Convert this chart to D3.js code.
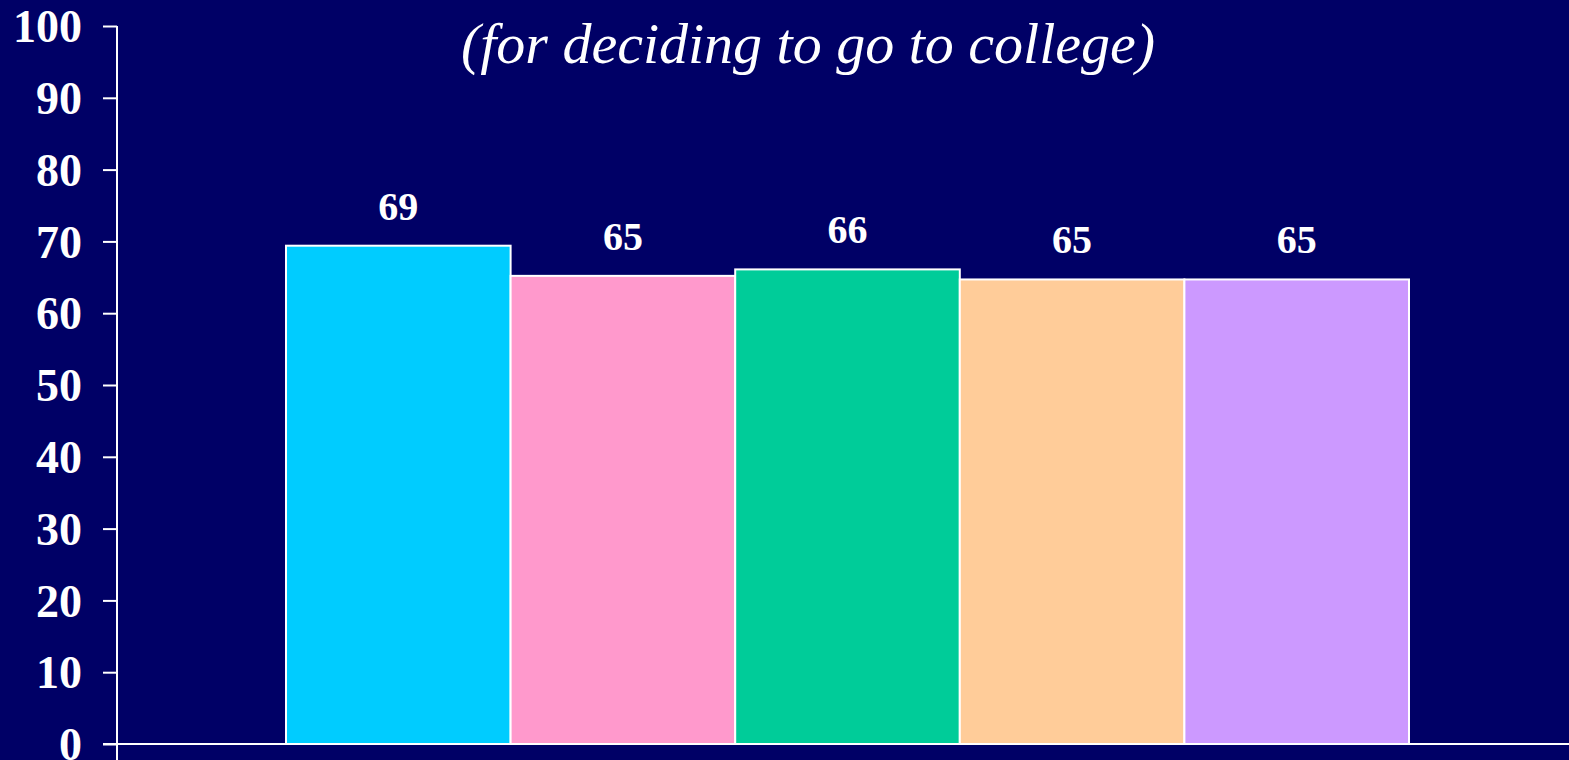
<!DOCTYPE html>
<html>
<head>
<meta charset="utf-8">
<script src="https://cdn.jsdelivr.net/npm/d3@7"></script>
<style>
  html, body { margin: 0; padding: 0; background: #000066; overflow: hidden; }
  svg { display: block; }
</style>
</head>
<body>
<svg id="chart" width="1569" height="760"></svg>
<script>
// ---- data ----
const categories = ["Group 1", "Group 2", "Group 3", "Group 4", "Group 5"];
const values = [69.4, 65.2, 66.1, 64.7, 64.7];
const valueLabels = ["69", "65", "66", "65", "65"];
const barColors = ["#00CCFF", "#FF99CC", "#00CC99", "#FFCC99", "#CC99FF"];
const yTicks = [0, 10, 20, 30, 40, 50, 60, 70, 80, 90, 100];
const subtitle = "(for deciding to go to college)";

// ---- layout ----
const W = 1569, H = 760;
const svg = d3.select("#chart");
svg.append("rect").attr("width", W).attr("height", H).attr("fill", "#000066");

const y = d3.scaleLinear().domain([0, 100]).range([744, 26]);
const x = d3.scaleBand().domain(categories).range([286, 1409]).paddingInner(0).paddingOuter(0);

const serif = "'Liberation Serif', 'Times New Roman', Times, serif";

// subtitle
svg.append("text")
  .attr("x", 808).attr("y", 63)
  .attr("text-anchor", "middle")
  .attr("fill", "#ffffff")
  .attr("font-family", serif)
  .attr("font-style", "italic")
  .attr("font-size", 58)
  .text(subtitle);

// bars
svg.append("g").selectAll("rect")
  .data(categories)
  .join("rect")
  .attr("x", d => x(d))
  .attr("y", (d, i) => y(values[i]))
  .attr("width", x.bandwidth())
  .attr("height", (d, i) => y(0) - y(values[i]))
  .attr("fill", (d, i) => barColors[i])
  .attr("stroke", "#ffffff")
  .attr("stroke-width", 2);

// value labels
svg.append("g").selectAll("text")
  .data(categories)
  .join("text")
  .attr("x", d => x(d) + x.bandwidth() / 2)
  .attr("y", (d, i) => y(values[i]) - 26)
  .attr("text-anchor", "middle")
  .attr("fill", "#ffffff")
  .attr("font-family", serif)
  .attr("font-weight", "bold")
  .attr("font-size", 40)
  .text((d, i) => valueLabels[i]);

// y axis
const yAxis = d3.axisLeft(y).tickValues(yTicks).tickSize(14).tickPadding(21).tickSizeOuter(0);
const gy = svg.append("g").attr("transform", "translate(117,0)").call(yAxis);
gy.select(".domain").remove();
gy.selectAll(".tick line").attr("stroke", "#ffffff").attr("stroke-width", 2);
gy.selectAll(".tick text")
  .attr("fill", "#ffffff")
  .attr("font-family", serif)
  .attr("font-weight", "bold")
  .attr("font-size", 46)
  .attr("dy", "0.34em");
gy.append("line")
  .attr("x1", 0).attr("x2", 0)
  .attr("y1", y(100)).attr("y2", H)
  .attr("stroke", "#ffffff").attr("stroke-width", 2);

// x axis baseline
svg.append("line")
  .attr("x1", 103).attr("x2", W)
  .attr("y1", y(0)).attr("y2", y(0))
  .attr("stroke", "#ffffff").attr("stroke-width", 2);
</script>
</body>
</html>
